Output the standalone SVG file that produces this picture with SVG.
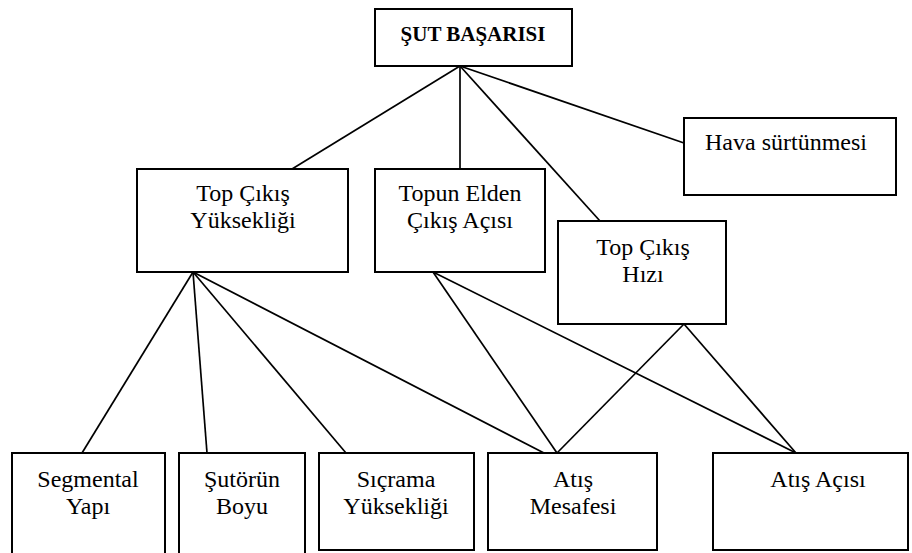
<svg xmlns="http://www.w3.org/2000/svg" width="912" height="553" viewBox="0 0 912 553">
<style>
.box{fill:#fff;stroke:#000;stroke-width:2}
.t{font-family:"Liberation Serif","Times New Roman",serif;font-size:24px;fill:#000;text-anchor:middle}
.tb{font-family:"Liberation Serif","Times New Roman",serif;font-size:21px;font-weight:bold;fill:#000;text-anchor:middle}
.c line{stroke:#000;stroke-width:1.7}
</style>
<rect width="912" height="553" fill="#fff"/>
<g class="c" id="connectors">
<line x1="460" y1="66" x2="292" y2="169"/>
<line x1="460" y1="66" x2="460" y2="169"/>
<line x1="460" y1="66" x2="600" y2="221"/>
<line x1="460" y1="66" x2="684" y2="143"/>
<line x1="193" y1="272" x2="82" y2="453"/>
<line x1="193" y1="272" x2="207" y2="453"/>
<line x1="193" y1="272" x2="346" y2="453"/>
<line x1="193" y1="272" x2="544" y2="453"/>
<line x1="433" y1="272" x2="557" y2="453"/>
<line x1="433" y1="272" x2="796" y2="453"/>
<line x1="684" y1="324" x2="557" y2="453"/>
<line x1="684" y1="324" x2="796" y2="453"/>
</g>
<g id="sut-basarisi"><rect class="box" x="375" y="9" width="197" height="57"/><text class="tb" x="473" y="41">ŞUT BAŞARISI</text></g>
<g id="top-cikis-yuksekligi"><rect class="box" x="137" y="169" width="211" height="103"/><text class="t" x="243" y="201">Top Çıkış</text><text class="t" x="243" y="228">Yüksekliği</text></g>
<g id="topun-elden"><rect class="box" x="375" y="169" width="170" height="103"/><text class="t" x="460" y="201">Topun Elden</text><text class="t" x="460" y="228">Çıkış Açısı</text></g>
<g id="hava"><rect class="box" x="684" y="118" width="212" height="77"/><text class="t" x="786" y="150">Hava sürtünmesi</text></g>
<g id="top-cikis-hizi"><rect class="box" x="558" y="221" width="168" height="103"/><text class="t" x="643" y="255">Top Çıkış</text><text class="t" x="643" y="282">Hızı</text></g>
<g id="segmental"><rect class="box" x="12" y="453" width="153" height="110"/><text class="t" x="88" y="487">Segmental</text><text class="t" x="88" y="514">Yapı</text></g>
<g id="sutorun"><rect class="box" x="179" y="453" width="126" height="110"/><text class="t" x="242" y="487">Şutörün</text><text class="t" x="242" y="514">Boyu</text></g>
<g id="sicrama"><rect class="box" x="319" y="453" width="155" height="97"/><text class="t" x="396" y="487">Sıçrama</text><text class="t" x="396" y="514">Yüksekliği</text></g>
<g id="atis-mesafesi"><rect class="box" x="488" y="453" width="169" height="97"/><text class="t" x="573" y="487">Atış</text><text class="t" x="573" y="514">Mesafesi</text></g>
<g id="atis-acisi"><rect class="box" x="713" y="453" width="195" height="97"/><text class="t" x="818" y="487">Atış Açısı</text></g>
</svg>
